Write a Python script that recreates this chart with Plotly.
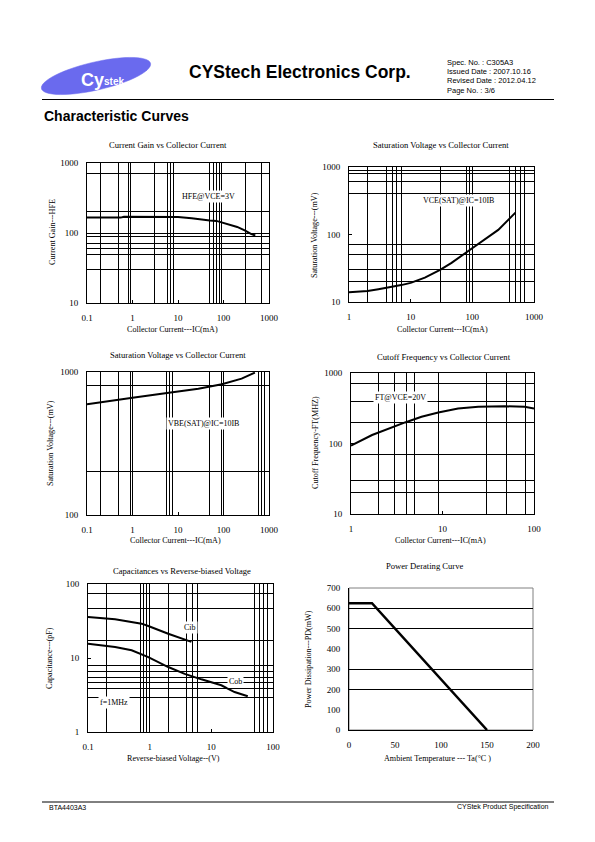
import numpy as np
import plotly.graph_objects as go

W, H = 595, 842

# ---------------- data ----------------
hfe_ic = [0.1, 0.3, 0.55, 0.65, 1, 3, 10, 20, 30, 50, 70, 100, 150, 200, 300, 400, 500]
hfe = [166, 166, 166, 171, 171, 171, 169, 163, 156, 151, 149, 140, 130, 122, 108, 97, 92]

vce_ic = [1, 2, 3, 5, 7, 10, 17, 30, 46, 86, 140, 263, 500]
vce_sat = [14, 14.6, 15.5, 16.7, 17.8, 19.2, 23, 30, 38, 57, 78, 117, 211]

vbe_ic = [0.1, 0.5, 1, 6.3, 28, 92, 250, 490]
vbe_sat = [594, 644, 661, 717, 764, 820, 898, 990]

ft_ic = [1, 1.7, 3.9, 5.9, 9, 14.8, 24.6, 48, 79, 100]
ft = [93, 132, 199, 239, 275, 314, 331, 338, 331, 314]

cib_v = [0.1, 0.275, 0.74, 0.95, 2.0, 3.3, 4.75]
cib = [35.8, 33.3, 29.1, 27.1, 21.3, 18.6, 16.5]
cob_v = [0.1, 0.275, 0.51, 0.95, 2.0, 3.7, 6.9, 14.5, 23.8, 39]
cob = [15.6, 14.1, 12.7, 10.3, 7.55, 6.1, 5.15, 4.28, 3.47, 3.04]

ta = [0, 25, 150]
pd_mw = [625, 625, 0]

# gridline values (as drawn in the original sheet)
g1x = [0.2, 0.5, 0.8, 0.9, 3, 6, 7, 8, 50, 60, 70, 80, 90, 300, 700]
g1y = [30, 50, 60, 70, 90, 100, 200, 700]
g2x = [2, 4, 5, 6, 7, 30, 80, 90, 100, 400, 500, 600, 700]
g2y = [20, 30, 50, 70, 400, 600, 800, 900]
g3x = [0.2, 0.5, 0.9, 1, 5.7, 6.5, 7.6, 50, 90, 100, 600, 700, 800]
g3y = [200, 800]
g4x = [2, 3, 4, 5, 9, 30, 50, 80]
g4y = [20, 30, 70, 200, 400, 700]
g5x = [0.2, 0.7, 0.8, 0.9, 1, 2, 4, 5, 6, 50, 60, 70, 80]
g5y = [2.95, 3.9, 4.7, 5.5, 6.5, 7.8, 17.5, 47, 75]
g6y = [200, 300, 500, 600]

SERIF = "Liberation Serif"
SANS = "Liberation Sans"

def px(x):
    return x / W

def py(y):
    return 1 - y / H

# plot areas in page pixels (left, top, right, bottom)
boxes = {
    1: (87, 163, 269, 303),
    2: (349, 167, 534, 302),
    3: (87, 372, 269, 515),
    4: (351, 373, 534, 514),
    5: (88, 584, 273, 732),
    6: (349, 588, 533, 730),
}

fig = go.Figure()

def add_line(n, x, y, w=2):
    xa = "x" if n == 1 else f"x{n}"
    ya = "y" if n == 1 else f"y{n}"
    fig.add_trace(go.Scatter(x=x, y=y, mode="lines", xaxis=xa, yaxis=ya,
                             line=dict(color="black", width=w), showlegend=False,
                             hoverinfo="skip"))

add_line(1, hfe_ic, hfe)
add_line(2, vce_ic, vce_sat)
add_line(3, vbe_ic, vbe_sat)
add_line(4, ft_ic, ft)
add_line(5, cib_v, cib)
add_line(5, cob_v, cob)
add_line(6, ta, pd_mw, 2.5)

def fmt(v):
    return ("%g" % v)

TICKFONT = dict(family=SERIF, size=9, color="black")

def log_axis(lo, hi, grid, n, which):
    decs = [10 ** k for k in range(int(round(np.log10(lo))), int(round(np.log10(hi))) + 1)]
    l, t, r, b = boxes[n]
    if which == "x":
        dom = [px(l), px(r)]
    else:
        dom = [py(b), py(t)]
    return dict(type="log", range=[np.log10(lo), np.log10(hi)], domain=dom,
                tickmode="array", tickvals=decs, ticktext=[fmt(d) for d in decs],
                showgrid=False, zeroline=False, automargin=False,
                showline=True, linecolor="black", linewidth=1, mirror=True,
                ticks="inside", ticklen=3, tickcolor="black",
                tickfont=TICKFONT,
                ticklabelstandoff=6,
                minor=dict(tickmode="array", tickvals=grid, showgrid=True,
                           gridcolor="black", gridwidth=1, ticks="", ticklen=0),
                fixedrange=True)

specs = {
    1: ((0.1, 1000, g1x), (10, 1000, g1y)),
    2: ((1, 1000, g2x), (10, 1000, g2y)),
    3: ((0.1, 1000, g3x), (100, 1000, g3y)),
    4: ((1, 100, g4x), (10, 1000, g4y)),
    5: ((0.1, 100, g5x), (1, 100, g5y)),
}
lay = {}
for n, (xs, ys) in specs.items():
    xk = "xaxis" if n == 1 else f"xaxis{n}"
    yk = "yaxis" if n == 1 else f"yaxis{n}"
    xa = log_axis(*xs, n, "x")
    ya = log_axis(*ys, n, "y")
    xa["anchor"] = "y" if n == 1 else f"y{n}"
    ya["anchor"] = "x" if n == 1 else f"x{n}"
    lay[xk] = xa
    lay[yk] = ya

l, t, r, b = boxes[6]
lay["xaxis6"] = dict(range=[0, 200], domain=[px(l), px(r)], anchor="y6", automargin=False,
                     tickmode="linear", tick0=0, dtick=50, showgrid=False, zeroline=False,
                     showline=True, linecolor="black", linewidth=1, ticks="",
                     tickfont=TICKFONT, ticklabelstandoff=6, fixedrange=True)
lay["yaxis6"] = dict(range=[0, 700], domain=[py(b), py(t)], anchor="x6", automargin=False,
                     tickmode="linear", tick0=0, dtick=100, showgrid=False, zeroline=False,
                     showline=True, linecolor="black", linewidth=1, ticks="",
                     tickfont=TICKFONT, ticklabelstandoff=6,
                     minor=dict(tickmode="array", tickvals=g6y, showgrid=True,
                                gridcolor="black", gridwidth=1, ticks="", ticklen=0),
                     fixedrange=True)

anns = []

def ann(text, x, y, size=8.5, family=SERIF, xanchor="center", angle=0, bg=None, bold=False, color="black"):
    d = dict(text=("<b>%s</b>" % text) if bold else text, x=px(x), y=py(y), xref="paper", yref="paper",
             showarrow=False, xanchor=xanchor, yanchor="middle", textangle=angle,
             font=dict(family=family, size=size, color=color))
    if bg:
        d["bgcolor"] = bg
        d["borderpad"] = 1
    anns.append(d)

TS = 8.6   # chart title size
AS = 8.1   # axis title size

# chart titles
ann("Current Gain vs Collector Current", 168, 145, TS)
ann("Saturation Voltage vs Collector Current", 441, 145, TS)
ann("Saturation Voltage vs Collector Current", 178, 355, TS)
ann("Cutoff Frequency vs Collector Current", 444, 357, TS)
ann("Capacitances vs Reverse-biased Voltage", 182, 571, TS)
ann("Power Derating Curve", 425, 566, TS)

# axis titles
ann("Collector Current---IC(mA)", 172, 329, AS)
ann("Collector Current---IC(mA)", 442, 329, AS)
ann("Collector Current---IC(mA)", 175, 540, AS)
ann("Collector Current---IC(mA)", 440, 540, AS)
ann("Reverse-biased Voltage--(V)", 173, 758, AS)
ann("Ambient Temperature --- Ta(°C )", 437, 758, AS)
ann("Current Gain---HFE", 52, 232, AS, angle=-90)
ann("Saturation Voltage---(mV)", 315, 235, AS, angle=-90)
ann("Saturation Voltage---(mV)", 50, 443, AS, angle=-90)
ann("Cutoff Frequency-FT(MHZ)", 315, 443, AS, angle=-90)
ann("Capacitance---(pF)", 49, 658, AS, angle=-90)
ann("Power Dissipation---PD(mW)", 308, 659, AS, angle=-90)

# in-plot labels
ann("HFE@VCE=3V", 208, 196, 8, bg="white")
ann("VCE(SAT)@IC=10IB", 458, 200, 8, bg="white")
ann("VBE(SAT)@IC=10IB", 203, 423, 8, bg="white")
ann("FT@VCE=20V", 400, 397, 8, bg="white")
ann("Cib", 190, 627, 8, bg="white")
ann("Cob", 235, 681, 8, bg="white")
ann("f=1MHz", 114, 702, 8, bg="white")

# header
ann("CYStech Electronics Corp.", 300, 72, 17.5, family=SANS, bold=True)
for i, s in enumerate(["Spec. No. : C305A3", "Issued Date : 2007.10.16",
                       "Revised Date : 2012.04.12", "Page No. : 3/6"]):
    ann(s, 445, 62 + 9.5 * i, 7.5, family=SANS, xanchor="left")
ann("Characteristic Curves", 42, 116, 14, family=SANS, xanchor="left", bold=True)
ann("BTA4403A3", 47, 807, 7, family=SANS, xanchor="left")
ann("CYStek Product Specification", 551, 807, 7, family=SANS, xanchor="right")

# logo text
ann("Cy", 92, 80, 18, family=SANS, bold=True, color="white")
ann("stek", 114, 82, 10, family=SANS, bold=True, color="white")

shapes = []
# logo ellipse (rotated)
th = np.linspace(0, 2 * np.pi, 60)
cx, cy, rx, ry, ang = 96, 76, 56, 14, np.deg2rad(-13)
ex = cx + rx * np.cos(th) * np.cos(ang) - ry * np.sin(th) * np.sin(ang)
ey = cy + rx * np.cos(th) * np.sin(ang) + ry * np.sin(th) * np.cos(ang)
path = "M " + " L ".join("%.5f,%.5f" % (px(a), py(b_)) for a, b_ in zip(ex, ey)) + " Z"
shapes.append(dict(type="path", path=path, xref="paper", yref="paper",
                   fillcolor="#6a6aee", line=dict(color="#6a6aee", width=0.5), layer="below"))
# header / footer rules
shapes.append(dict(type="line", xref="paper", yref="paper", x0=px(42), x1=px(554), y0=py(99.5), y1=py(99.5),
                   line=dict(color="black", width=1.2)))
shapes.append(dict(type="line", xref="paper", yref="paper", x0=px(42), x1=px(554), y0=py(802), y1=py(802),
                   line=dict(color="black", width=1)))
# grey frame of power derating plot
shapes.append(dict(type="rect", xref="x6 domain", yref="y6 domain", x0=0, x1=1, y0=0, y1=1,
                   line=dict(color="#808080", width=1), layer="below"))

fig.update_layout(template="none", width=W, height=H,
                  margin=dict(l=0, r=0, t=0, b=0, pad=0, autoexpand=False),
                  paper_bgcolor="white", plot_bgcolor="white",
                  annotations=anns, shapes=shapes, showlegend=False, **lay)

fig.write_html("out.html", config={"displayModeBar": False},
               post_script="document.body.style.margin='0px';document.body.style.padding='0px';")
